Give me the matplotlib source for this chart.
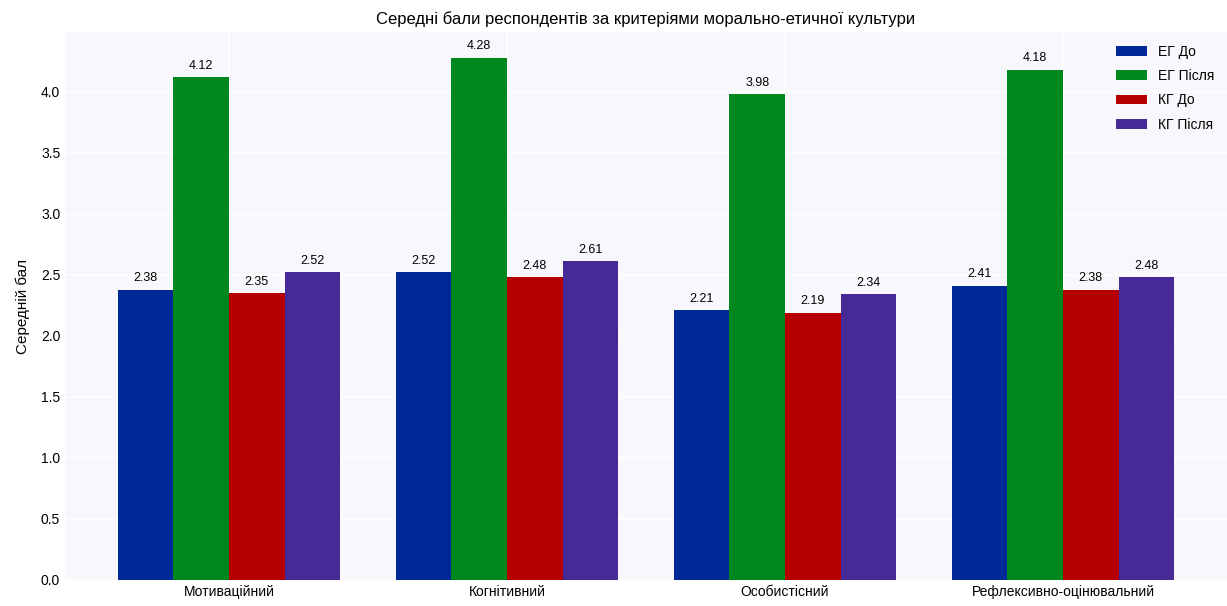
# Grouped bar chart: average scores by criteria of moral-ethical culture
import numpy as np
import matplotlib.pyplot as plt

plt.rcParams['font.family'] = ['Liberation Sans', 'DejaVu Sans']

# Data
categories = ['Мотиваційний', 'Когнітивний', 'Особистісний', 'Рефлексивно-оцінювальний']
series_names = ['ЕГ До', 'ЕГ Після', 'КГ До', 'КГ Після']
eg_before = [2.38, 2.52, 2.21, 2.41]
eg_after = [4.12, 4.28, 3.98, 4.18]
kg_before = [2.35, 2.48, 2.19, 2.38]
kg_after = [2.52, 2.61, 2.34, 2.48]
colors = ['#002896', '#00871e', '#b40000', '#462a96']

series = [eg_before, eg_after, kg_before, kg_after]

fig = plt.figure(figsize=[12.27, 6.06], dpi=100)
ax = fig.add_subplot()
ax.set_facecolor('#f8f8fc')
for s in ax.spines.values():
    s.set_visible(False)
ax.grid(True, color='white', lw=1.2)
ax.set_axisbelow(True)
ax.tick_params(length=0, labelsize=10)

x = np.arange(len(categories))
w = 0.2
for i, (vals, name, c) in enumerate(zip(series, series_names, colors)):
    bars = ax.bar(x + (i - 1.5) * w, vals, w, color=c, label=name)
    ax.bar_label(bars, labels=[f'{v:.2f}' for v in vals], padding=4, fontsize=9)

ax.set_xticks(x)
ax.set_xticklabels(categories)
ax.set_ylim(0, 4.49)
ax.set_yticks(np.arange(0, 4.01, 0.5))
ax.set_ylabel('Середній бал', fontsize=11, labelpad=8)
ax.set_title('Середні бали респондентів за критеріями морально-етичної культури', fontsize=12)
ax.legend(loc='upper right', frameon=False, fontsize=10, labelspacing=0.75,
          handlelength=2.2)

fig.subplots_adjust(left=0.053, right=1.0, top=0.947, bottom=0.043)
plt.savefig('out.png')
